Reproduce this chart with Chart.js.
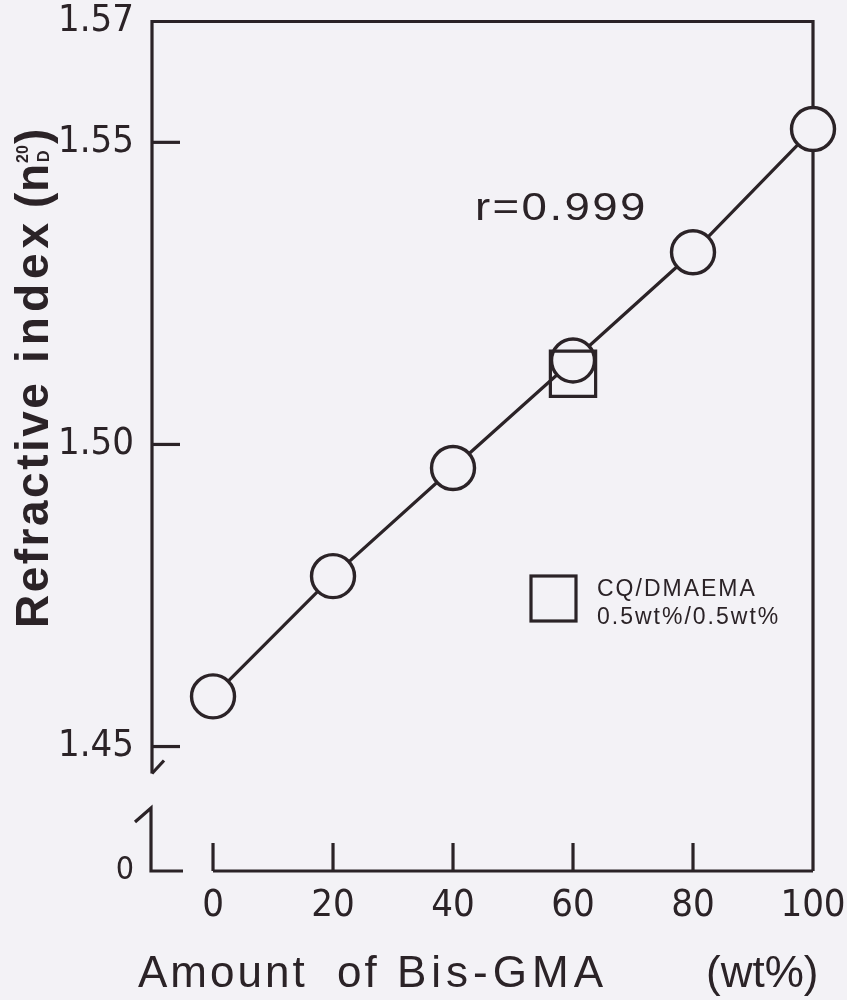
<!DOCTYPE html>
<html>
<head>
<meta charset="utf-8">
<script src="https://cdn.jsdelivr.net/npm/chart.js@4/dist/chart.umd.min.js"></script>
<style>
  html, body { margin: 0; padding: 0; background: #f3f2f6; }
  #wrap { width: 847px; height: 1000px; position: relative; }
</style>
</head>
<body>
<div id="wrap"><canvas id="c"></canvas></div>
<script>
// ---- data ----
const bisGmaAmounts = [0, 20, 40, 60, 80, 100];               // wt%
const refractiveIndex = [1.4583, 1.4782, 1.4961, 1.5139, 1.5318, 1.5522];
const cqAmount = [60];
const cqRefractiveIndex = [1.5117];
const xTickValues = [0, 20, 40, 60, 80, 100];
const yTickValues = [1.45, 1.50, 1.55, 1.57];
const yBreakLabel = '0';
const correlationText = 'r=0.999';
const legendLines = ['CQ/DMAEMA', '0.5wt%/0.5wt%'];

const INK = '#2b2327';
const BG = '#f3f2f6';
const Y_MIN = 1.4294, Y_MAX = 1.57;
const X_MIN = -10.17, X_MAX = 100;
const NARROW = "'Liberation Sans Narrow', 'DejaVu Sans Condensed', 'Roboto Condensed', 'DejaVu Sans', sans-serif";
const SANS = "'Liberation Sans', Arial, Helvetica, sans-serif";

function zeroPad(s) { s.paddingLeft = 0; s.paddingRight = 0; s.paddingTop = 0; s.paddingBottom = 0; }

const decorPlugin = {
  id: 'decor',
  beforeDatasetsDraw(chart) {
    const ctx = chart.ctx;
    const xs = chart.scales.x, ys = chart.scales.y;
    const a = chart.chartArea;
    ctx.save();
    ctx.strokeStyle = INK;
    ctx.lineWidth = 3.2;
    ctx.lineCap = 'butt';
    ctx.lineJoin = 'miter';
    const y145 = ys.getPixelForValue(1.45);
    // left axis (upper part) + top + right frame
    ctx.beginPath();
    ctx.moveTo(a.left, y145 + 27);
    ctx.lineTo(a.left, a.top);
    ctx.lineTo(a.right, a.top);
    ctx.lineTo(a.right, a.bottom);
    ctx.stroke();
    // break mark at the bottom of upper axis
    ctx.beginPath();
    ctx.moveTo(a.left, y145 + 27);
    ctx.lineTo(a.left + 12, y145 + 14);
    ctx.stroke();
    // lower axis piece
    ctx.beginPath();
    ctx.moveTo(a.left - 17, a.bottom - 49);
    ctx.lineTo(a.left - 1, a.bottom - 63);
    ctx.lineTo(a.left - 1, a.bottom);
    ctx.lineTo(a.left + 31, a.bottom);
    ctx.stroke();
    // x axis line
    const x0 = xs.getPixelForValue(xTickValues[0]);
    ctx.beginPath();
    ctx.moveTo(x0, a.bottom);
    ctx.lineTo(a.right, a.bottom);
    ctx.stroke();
    // x ticks (inward)
    xTickValues.forEach(v => {
      if (v === X_MAX) return;
      const px = xs.getPixelForValue(v);
      ctx.beginPath();
      ctx.moveTo(px, a.bottom);
      ctx.lineTo(px, a.bottom - 28);
      ctx.stroke();
    });
    // y ticks (inward)
    yTickValues.forEach(v => {
      if (v === Y_MAX) return;
      const py = ys.getPixelForValue(v);
      ctx.beginPath();
      ctx.moveTo(a.left, py);
      ctx.lineTo(a.left + 28, py);
      ctx.stroke();
    });
    ctx.restore();
  },
  afterDraw(chart) {
    const ctx = chart.ctx;
    ctx.save();
    ctx.fillStyle = INK;
    ctx.strokeStyle = INK;
    ctx.textBaseline = 'alphabetic';
    ctx.textAlign = 'left';
    // x title
    ctx.font = '44px ' + SANS;
    ctx.letterSpacing = '3px';
    ctx.fillText('Amount', 138, 987);
    ctx.fillText('of', 337, 987);
    ctx.letterSpacing = '5px';
    ctx.fillText('Bis-GMA', 397, 987);
    ctx.letterSpacing = '0px';
    ctx.fillText('(wt%)', 706, 987);
    // y title (rotated)
    ctx.save();
    ctx.translate(48, 628);
    ctx.rotate(-Math.PI / 2);
    ctx.font = 'bold 46px ' + SANS;
    ctx.letterSpacing = '2.5px';
    ctx.fillText('Refractive', 0, 0);
    ctx.letterSpacing = '5px';
    ctx.fillText('index', 265, 0);
    ctx.letterSpacing = '0px';
    ctx.fillText('(', 420, 0);
    ctx.fillText('n', 436, 0);
    ctx.font = 'bold 16px ' + SANS;
    ctx.fillText('20', 465, -20);
    ctx.fillText('D', 466, 1);
    ctx.font = 'bold 46px ' + SANS;
    ctx.fillText(')', 484, 0);
    ctx.restore();
    // correlation
    ctx.save();
    ctx.translate(475, 220);
    ctx.scale(1.2, 1);
    ctx.font = '38px ' + SANS;
    ctx.letterSpacing = '2px';
    ctx.fillText(correlationText, 0, 0);
    ctx.restore();
    // legend
    ctx.letterSpacing = '0px';
    ctx.lineWidth = 3.2;
    ctx.strokeRect(531, 576, 45, 45);
    ctx.font = '23px ' + SANS;
    ctx.letterSpacing = '2px';
    ctx.fillText(legendLines[0], 597, 596);
    ctx.fillText(legendLines[1], 597, 624);
    ctx.restore();
  }
};

const chart = new Chart(document.getElementById('c'), {
  type: 'scatter',
  data: {
    datasets: [
      {
        label: 'CQ/DMAEMA 0.5wt%/0.5wt%',
        data: cqAmount.map((x, i) => ({ x, y: cqRefractiveIndex[i] })),
        pointStyle: 'rect',
        pointRadius: 32,
        pointBorderWidth: 3.2,
        pointBackgroundColor: 'rgba(0,0,0,0)',
        pointBorderColor: INK,
        showLine: false,
        clip: false,
        order: 0
      },
      {
        label: 'Bis-GMA',
        data: bisGmaAmounts.map((x, i) => ({ x, y: refractiveIndex[i] })),
        pointStyle: 'circle',
        pointRadius: 21.5,
        pointBorderWidth: 3.4,
        pointBackgroundColor: BG,
        pointBorderColor: INK,
        showLine: true,
        borderColor: INK,
        borderWidth: 3.2,
        clip: false,
        order: 1
      }
    ]
  },
  options: {
    responsive: true,
    maintainAspectRatio: false,
    animation: false,
    events: [],
    layout: { autoPadding: false, padding: { top: 21.5, right: 34, left: 0, bottom: 0 } },
    plugins: { legend: { display: false }, tooltip: { enabled: false } },
    scales: {
      x: {
        type: 'linear',
        min: X_MIN, max: X_MAX,
        grid: { display: false, drawTicks: false },
        border: { display: false },
        afterBuildTicks: s => { s.ticks = xTickValues.map(v => ({ value: v })); },
        afterFit: s => { s.height = 129; zeroPad(s); },
        ticks: {
          color: INK,
          padding: 12,
          font: { family: NARROW, size: 38 },
          callback: v => String(v),
          maxRotation: 0, autoSkip: false
        }
      },
      y: {
        type: 'linear',
        min: Y_MIN, max: Y_MAX,
        grid: { display: false, drawTicks: false },
        border: { display: false },
        afterBuildTicks: s => { s.ticks = [{ value: Y_MIN }].concat(yTickValues.map(v => ({ value: v }))); },
        afterFit: s => { s.width = 152; zeroPad(s); },
        ticks: {
          color: INK,
          padding: 18,
          font: c => ({ family: NARROW, size: c.tick && c.tick.value === Y_MIN ? 32 : 38 }),
          callback: v => (v === Y_MIN ? yBreakLabel : Number(v).toFixed(2)),
          autoSkip: false
        }
      }
    }
  },
  plugins: [decorPlugin]
});
</script>
</body>
</html>
